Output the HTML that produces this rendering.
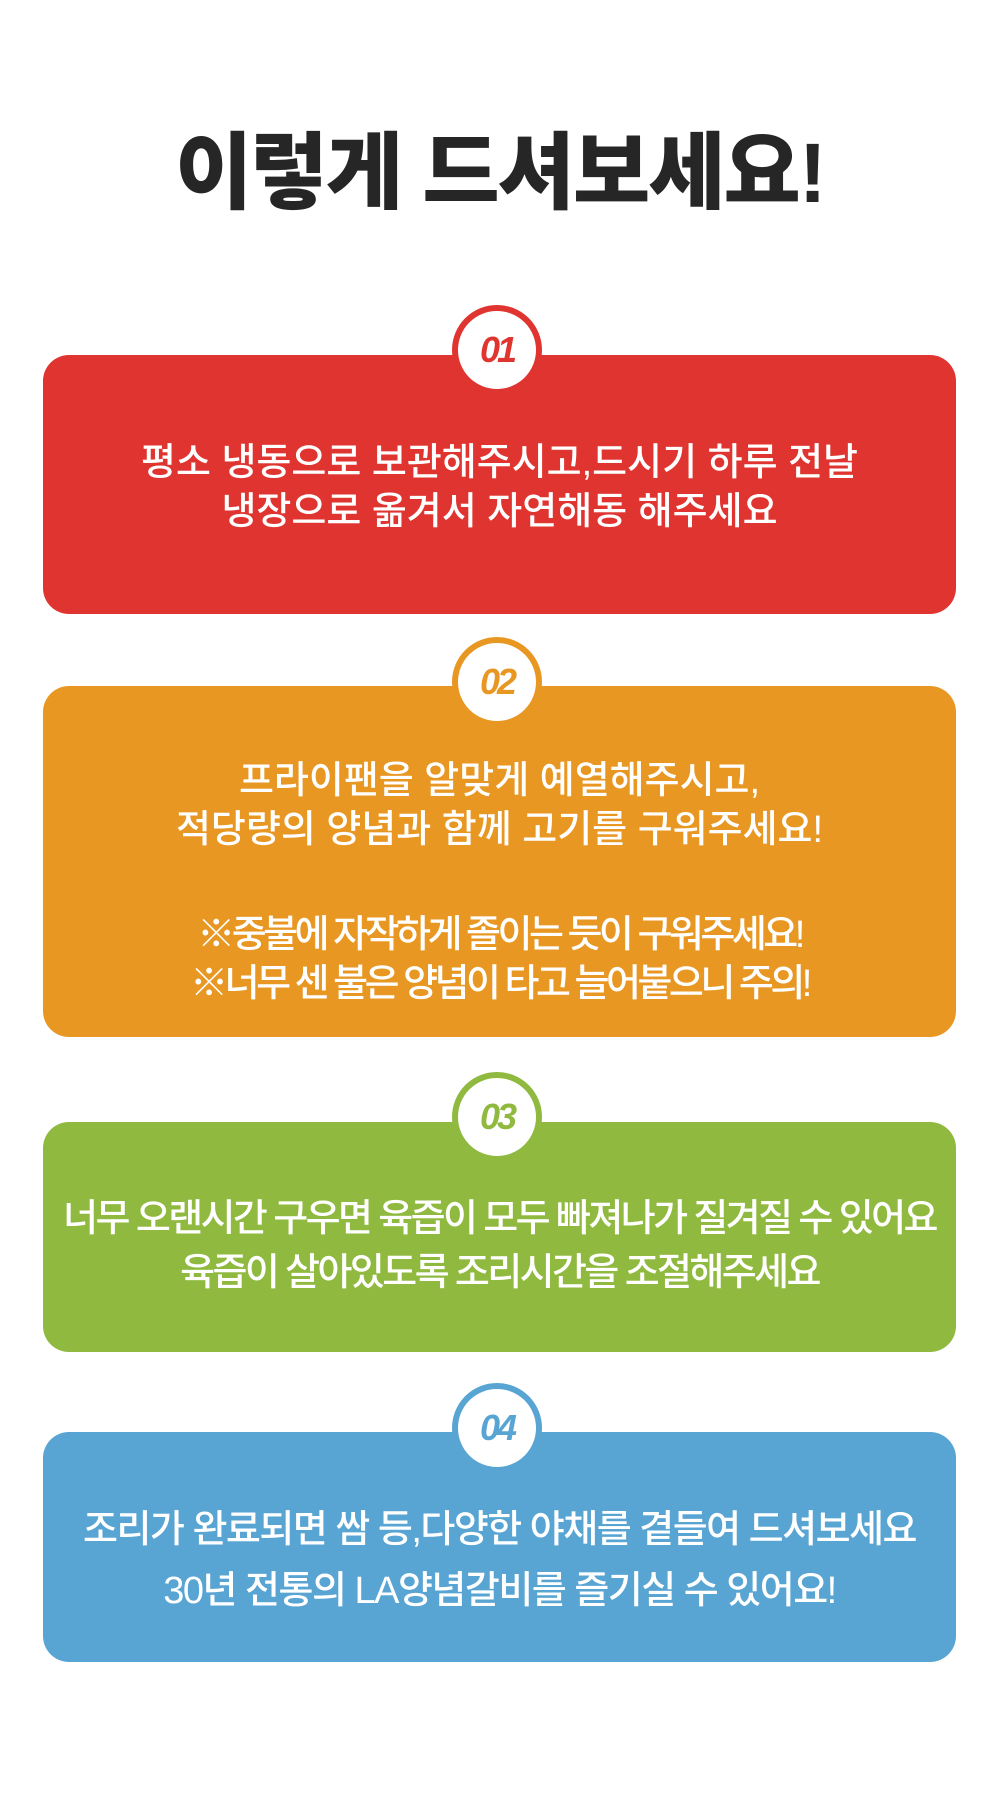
<!DOCTYPE html>
<html><head><meta charset="utf-8"><style>
html,body{margin:0;padding:0;background:#fff;}
body{width:1000px;height:1796px;position:relative;overflow:hidden;font-family:"Liberation Sans","Noto Sans CJK KR",sans-serif;}
h1{position:absolute;top:118px;left:0;width:1000px;text-align:center;margin:0;font-size:84px;font-weight:900;color:#262626;letter-spacing:-2px;line-height:110px;}
.box{position:absolute;left:43px;width:913px;border-radius:26px;color:#fff;text-align:center;font-size:38px;font-weight:500;letter-spacing:0px;}
.box p{position:absolute;left:0;width:100%;margin:0;line-height:44px;white-space:nowrap;}
.c{position:absolute;left:455px;width:78px;height:78px;border-radius:50%;background:#fff;border:6px solid;box-sizing:content-box;text-align:center;line-height:78px;font-size:36px;font-weight:900;font-style:italic;letter-spacing:-3px;margin-left:-3px;}
</style></head><body>
<h1>이렇게 드셔보세요!</h1>

<div class="box" style="top:355px;height:259px;background:#df342f;">
<p style="top:86px">평소 냉동으로 보관해주시고,드시기 하루 전날</p>
<p style="top:135px">냉장으로 옮겨서 자연해동 해주세요</p>
</div>
<div class="c" style="top:305px;border-color:#df342f;color:#df342f;">01</div>

<div class="box" style="top:686px;height:351px;background:#e89723;">
<p style="top:73px">프라이팬을 알맞게 예열해주시고,</p>
<p style="top:122px">적당량의 양념과 함께 고기를 구워주세요!</p>
<p style="top:227px;letter-spacing:-3.5px">※중불에 자작하게 졸이는 듯이 구워주세요!</p>
<p style="top:276px;letter-spacing:-3.5px">※너무 센 불은 양념이 타고 늘어붙으니 주의!</p>
</div>
<div class="c" style="top:637px;border-color:#e89723;color:#e89723;">02</div>

<div class="box" style="top:1122px;height:230px;background:#90b93f;">
<p style="top:75px;letter-spacing:-2.6px">너무 오랜시간 구우면 육즙이 모두 빠져나가 질겨질 수 있어요</p>
<p style="top:129px;letter-spacing:-2.6px">육즙이 살아있도록 조리시간을 조절해주세요</p>
</div>
<div class="c" style="top:1072px;border-color:#90b93f;color:#90b93f;">03</div>

<div class="box" style="top:1432px;height:230px;background:#58a4d3;">
<p style="top:76px;letter-spacing:-1.5px">조리가 완료되면 쌈 등,다양한 야채를 곁들여 드셔보세요</p>
<p style="top:137px;letter-spacing:-1.5px">30년 전통의 LA양념갈비를 즐기실 수 있어요!</p>
</div>
<div class="c" style="top:1383px;border-color:#58a4d3;color:#58a4d3;">04</div>
</body></html>
